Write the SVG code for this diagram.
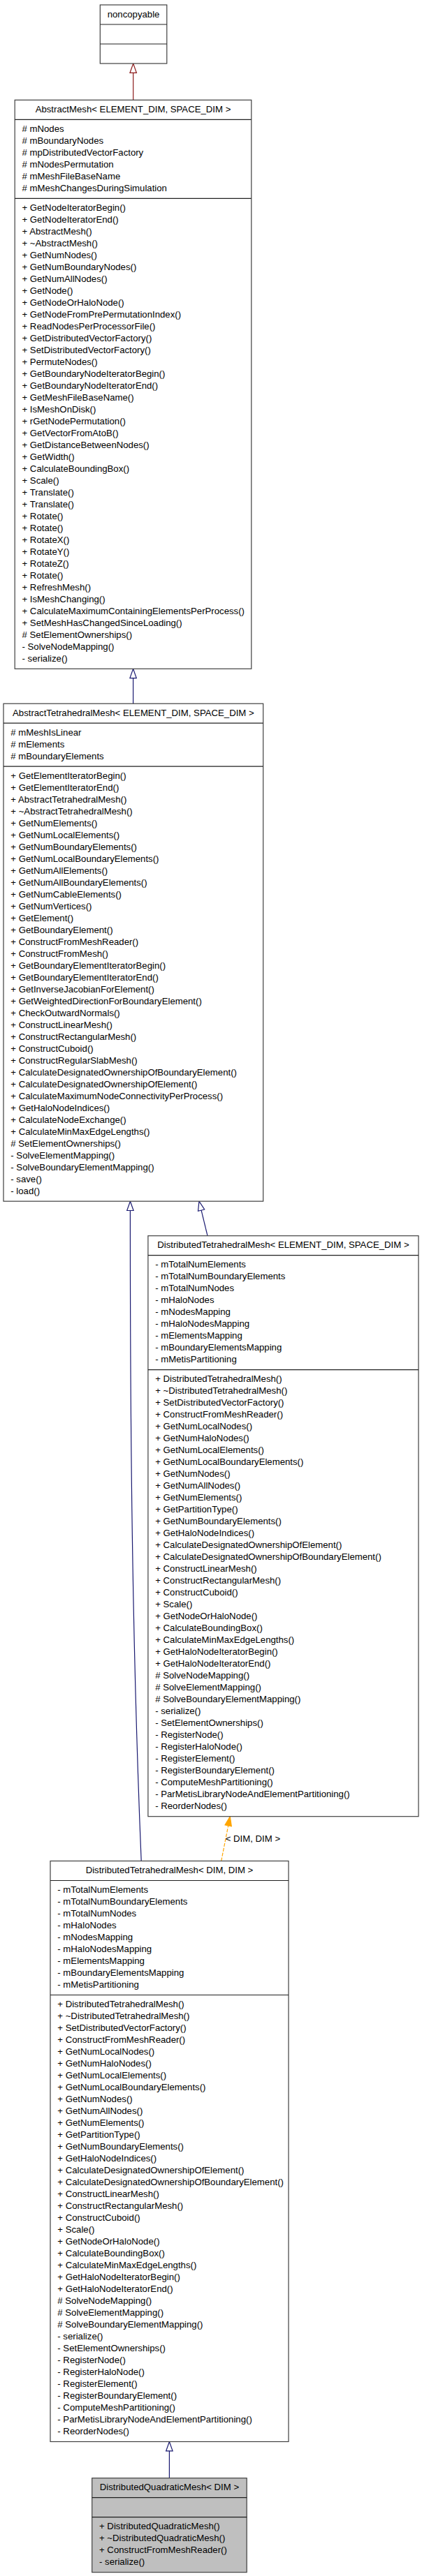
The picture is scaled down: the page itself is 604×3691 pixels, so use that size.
<svg xmlns="http://www.w3.org/2000/svg" width="604" height="3691" viewBox="0 0 604 3691">
<style>
.box{fill:#ffffff;stroke:#404040;stroke-width:1.2}
.grey{fill:#bfbfbf}
.sep{stroke:#202020;stroke-width:1.2}
text{font-family:"Liberation Sans",Arial,Helvetica,sans-serif;font-size:13.2px;fill:#000}
.t{text-anchor:middle}
.e{fill:none;stroke-width:1.2}
.red{stroke:#8b1a1a}
.blue{stroke:#191970}
.orange{stroke:#ffa500;stroke-dasharray:5,2}
</style>
<defs>
<marker id="hr" markerUnits="userSpaceOnUse" markerWidth="16" markerHeight="12" refX="0" refY="4.7" orient="auto" overflow="visible"><path d="M0,0 L13.3,4.7 L0,9.4 Z" fill="#ffffff" stroke="#8b1a1a" stroke-width="1.2"/></marker>
<marker id="hb" markerUnits="userSpaceOnUse" markerWidth="16" markerHeight="12" refX="0" refY="4.7" orient="auto" overflow="visible"><path d="M0,0 L13.3,4.7 L0,9.4 Z" fill="#ffffff" stroke="#191970" stroke-width="1.2"/></marker>
<marker id="ho" markerUnits="userSpaceOnUse" markerWidth="16" markerHeight="12" refX="0" refY="4.7" orient="auto" overflow="visible"><path d="M0,0 L13.3,4.7 L0,9.4 Z" fill="#ffa500" stroke="#ffa500" stroke-width="1.2"/></marker>
</defs>
<rect x="0" y="0" width="604" height="3691" fill="#ffffff"/>

<g id="connectors">
<path class="e red" d="M190.7,143.3 L190.7,104.3" marker-end="url(#hr)"/>
<path class="e blue" d="M190.6,1008.2 L190.6,971.6" marker-end="url(#hb)"/>
<path class="e blue" d="M202.2,2666.5 C189,2350 186.4,2050 186.4,1734.5" marker-end="url(#hb)"/>
<path class="e blue" d="M297,1770.7 L288.1,1734.1" marker-end="url(#hb)"/>
<path class="e orange" d="M316.7,2666.5 L326.7,2615.8" marker-end="url(#ho)"/>
<text x="322.7" y="2638.7">&lt; DIM, DIM &gt;</text>
<path class="e blue" d="M242.4,3550.7 L242.4,3511.8" marker-end="url(#hb)"/>
</g>

<g id="noncopyable">
<rect class="box" x="143.3" y="7" width="95.5" height="84"/>
<line class="sep" x1="143.3" y1="35" x2="238.8" y2="35"/>
<line class="sep" x1="143.3" y1="63" x2="238.8" y2="63"/>
<text class="t" x="191.05" y="24.6">noncopyable</text>
</g>

<g id="AbstractMesh">
<rect class="box" x="21.2" y="143.3" width="338.6" height="815"/>
<line class="sep" x1="21.2" y1="171.3" x2="359.8" y2="171.3"/>
<line class="sep" x1="21.2" y1="284.3" x2="359.8" y2="284.3"/>
<text class="t" x="190.5" y="160.9">AbstractMesh&lt; ELEMENT_DIM, SPACE_DIM &gt;</text>
<text x="31.5" y="188.9"><tspan x="31.5" dy="0"># mNodes</tspan><tspan x="31.5" dy="17"># mBoundaryNodes</tspan><tspan x="31.5" dy="17"># mpDistributedVectorFactory</tspan><tspan x="31.5" dy="17"># mNodesPermutation</tspan><tspan x="31.5" dy="17"># mMeshFileBaseName</tspan><tspan x="31.5" dy="17"># mMeshChangesDuringSimulation</tspan></text>
<text x="31.5" y="301.9"><tspan x="31.5" dy="0">+ GetNodeIteratorBegin()</tspan><tspan x="31.5" dy="17">+ GetNodeIteratorEnd()</tspan><tspan x="31.5" dy="17">+ AbstractMesh()</tspan><tspan x="31.5" dy="17">+ ~AbstractMesh()</tspan><tspan x="31.5" dy="17">+ GetNumNodes()</tspan><tspan x="31.5" dy="17">+ GetNumBoundaryNodes()</tspan><tspan x="31.5" dy="17">+ GetNumAllNodes()</tspan><tspan x="31.5" dy="17">+ GetNode()</tspan><tspan x="31.5" dy="17">+ GetNodeOrHaloNode()</tspan><tspan x="31.5" dy="17">+ GetNodeFromPrePermutationIndex()</tspan><tspan x="31.5" dy="17">+ ReadNodesPerProcessorFile()</tspan><tspan x="31.5" dy="17">+ GetDistributedVectorFactory()</tspan><tspan x="31.5" dy="17">+ SetDistributedVectorFactory()</tspan><tspan x="31.5" dy="17">+ PermuteNodes()</tspan><tspan x="31.5" dy="17">+ GetBoundaryNodeIteratorBegin()</tspan><tspan x="31.5" dy="17">+ GetBoundaryNodeIteratorEnd()</tspan><tspan x="31.5" dy="17">+ GetMeshFileBaseName()</tspan><tspan x="31.5" dy="17">+ IsMeshOnDisk()</tspan><tspan x="31.5" dy="17">+ rGetNodePermutation()</tspan><tspan x="31.5" dy="17">+ GetVectorFromAtoB()</tspan><tspan x="31.5" dy="17">+ GetDistanceBetweenNodes()</tspan><tspan x="31.5" dy="17">+ GetWidth()</tspan><tspan x="31.5" dy="17">+ CalculateBoundingBox()</tspan><tspan x="31.5" dy="17">+ Scale()</tspan><tspan x="31.5" dy="17">+ Translate()</tspan><tspan x="31.5" dy="17">+ Translate()</tspan><tspan x="31.5" dy="17">+ Rotate()</tspan><tspan x="31.5" dy="17">+ Rotate()</tspan><tspan x="31.5" dy="17">+ RotateX()</tspan><tspan x="31.5" dy="17">+ RotateY()</tspan><tspan x="31.5" dy="17">+ RotateZ()</tspan><tspan x="31.5" dy="17">+ Rotate()</tspan><tspan x="31.5" dy="17">+ RefreshMesh()</tspan><tspan x="31.5" dy="17">+ IsMeshChanging()</tspan><tspan x="31.5" dy="17">+ CalculateMaximumContainingElementsPerProcess()</tspan><tspan x="31.5" dy="17">+ SetMeshHasChangedSinceLoading()</tspan><tspan x="31.5" dy="17"># SetElementOwnerships()</tspan><tspan x="31.5" dy="17">- SolveNodeMapping()</tspan><tspan x="31.5" dy="17">- serialize()</tspan></text>
</g>

<g id="AbstractTetrahedralMesh">
<rect class="box" x="5" y="1008.2" width="371.7" height="713"/>
<line class="sep" x1="5" y1="1036.2" x2="376.7" y2="1036.2"/>
<line class="sep" x1="5" y1="1098.2" x2="376.7" y2="1098.2"/>
<text class="t" x="190.85" y="1025.8">AbstractTetrahedralMesh&lt; ELEMENT_DIM, SPACE_DIM &gt;</text>
<text x="15.3" y="1053.8"><tspan x="15.3" dy="0"># mMeshIsLinear</tspan><tspan x="15.3" dy="17"># mElements</tspan><tspan x="15.3" dy="17"># mBoundaryElements</tspan></text>
<text x="15.3" y="1115.8"><tspan x="15.3" dy="0">+ GetElementIteratorBegin()</tspan><tspan x="15.3" dy="17">+ GetElementIteratorEnd()</tspan><tspan x="15.3" dy="17">+ AbstractTetrahedralMesh()</tspan><tspan x="15.3" dy="17">+ ~AbstractTetrahedralMesh()</tspan><tspan x="15.3" dy="17">+ GetNumElements()</tspan><tspan x="15.3" dy="17">+ GetNumLocalElements()</tspan><tspan x="15.3" dy="17">+ GetNumBoundaryElements()</tspan><tspan x="15.3" dy="17">+ GetNumLocalBoundaryElements()</tspan><tspan x="15.3" dy="17">+ GetNumAllElements()</tspan><tspan x="15.3" dy="17">+ GetNumAllBoundaryElements()</tspan><tspan x="15.3" dy="17">+ GetNumCableElements()</tspan><tspan x="15.3" dy="17">+ GetNumVertices()</tspan><tspan x="15.3" dy="17">+ GetElement()</tspan><tspan x="15.3" dy="17">+ GetBoundaryElement()</tspan><tspan x="15.3" dy="17">+ ConstructFromMeshReader()</tspan><tspan x="15.3" dy="17">+ ConstructFromMesh()</tspan><tspan x="15.3" dy="17">+ GetBoundaryElementIteratorBegin()</tspan><tspan x="15.3" dy="17">+ GetBoundaryElementIteratorEnd()</tspan><tspan x="15.3" dy="17">+ GetInverseJacobianForElement()</tspan><tspan x="15.3" dy="17">+ GetWeightedDirectionForBoundaryElement()</tspan><tspan x="15.3" dy="17">+ CheckOutwardNormals()</tspan><tspan x="15.3" dy="17">+ ConstructLinearMesh()</tspan><tspan x="15.3" dy="17">+ ConstructRectangularMesh()</tspan><tspan x="15.3" dy="17">+ ConstructCuboid()</tspan><tspan x="15.3" dy="17">+ ConstructRegularSlabMesh()</tspan><tspan x="15.3" dy="17">+ CalculateDesignatedOwnershipOfBoundaryElement()</tspan><tspan x="15.3" dy="17">+ CalculateDesignatedOwnershipOfElement()</tspan><tspan x="15.3" dy="17">+ CalculateMaximumNodeConnectivityPerProcess()</tspan><tspan x="15.3" dy="17">+ GetHaloNodeIndices()</tspan><tspan x="15.3" dy="17">+ CalculateNodeExchange()</tspan><tspan x="15.3" dy="17">+ CalculateMinMaxEdgeLengths()</tspan><tspan x="15.3" dy="17"># SetElementOwnerships()</tspan><tspan x="15.3" dy="17">- SolveElementMapping()</tspan><tspan x="15.3" dy="17">- SolveBoundaryElementMapping()</tspan><tspan x="15.3" dy="17">- save()</tspan><tspan x="15.3" dy="17">- load()</tspan></text>
</g>

<g id="DistributedTetrahedralMesh_ELEMENT_DIM_SPACE_DIM">
<rect class="box" x="211.9" y="1770.7" width="387.1" height="832"/>
<line class="sep" x1="211.9" y1="1798.7" x2="599" y2="1798.7"/>
<line class="sep" x1="211.9" y1="1962.7" x2="599" y2="1962.7"/>
<text class="t" x="405.45" y="1788.3">DistributedTetrahedralMesh&lt; ELEMENT_DIM, SPACE_DIM &gt;</text>
<text x="222.2" y="1816.3"><tspan x="222.2" dy="0">- mTotalNumElements</tspan><tspan x="222.2" dy="17">- mTotalNumBoundaryElements</tspan><tspan x="222.2" dy="17">- mTotalNumNodes</tspan><tspan x="222.2" dy="17">- mHaloNodes</tspan><tspan x="222.2" dy="17">- mNodesMapping</tspan><tspan x="222.2" dy="17">- mHaloNodesMapping</tspan><tspan x="222.2" dy="17">- mElementsMapping</tspan><tspan x="222.2" dy="17">- mBoundaryElementsMapping</tspan><tspan x="222.2" dy="17">- mMetisPartitioning</tspan></text>
<text x="222.2" y="1980.3"><tspan x="222.2" dy="0">+ DistributedTetrahedralMesh()</tspan><tspan x="222.2" dy="17">+ ~DistributedTetrahedralMesh()</tspan><tspan x="222.2" dy="17">+ SetDistributedVectorFactory()</tspan><tspan x="222.2" dy="17">+ ConstructFromMeshReader()</tspan><tspan x="222.2" dy="17">+ GetNumLocalNodes()</tspan><tspan x="222.2" dy="17">+ GetNumHaloNodes()</tspan><tspan x="222.2" dy="17">+ GetNumLocalElements()</tspan><tspan x="222.2" dy="17">+ GetNumLocalBoundaryElements()</tspan><tspan x="222.2" dy="17">+ GetNumNodes()</tspan><tspan x="222.2" dy="17">+ GetNumAllNodes()</tspan><tspan x="222.2" dy="17">+ GetNumElements()</tspan><tspan x="222.2" dy="17">+ GetPartitionType()</tspan><tspan x="222.2" dy="17">+ GetNumBoundaryElements()</tspan><tspan x="222.2" dy="17">+ GetHaloNodeIndices()</tspan><tspan x="222.2" dy="17">+ CalculateDesignatedOwnershipOfElement()</tspan><tspan x="222.2" dy="17">+ CalculateDesignatedOwnershipOfBoundaryElement()</tspan><tspan x="222.2" dy="17">+ ConstructLinearMesh()</tspan><tspan x="222.2" dy="17">+ ConstructRectangularMesh()</tspan><tspan x="222.2" dy="17">+ ConstructCuboid()</tspan><tspan x="222.2" dy="17">+ Scale()</tspan><tspan x="222.2" dy="17">+ GetNodeOrHaloNode()</tspan><tspan x="222.2" dy="17">+ CalculateBoundingBox()</tspan><tspan x="222.2" dy="17">+ CalculateMinMaxEdgeLengths()</tspan><tspan x="222.2" dy="17">+ GetHaloNodeIteratorBegin()</tspan><tspan x="222.2" dy="17">+ GetHaloNodeIteratorEnd()</tspan><tspan x="222.2" dy="17"># SolveNodeMapping()</tspan><tspan x="222.2" dy="17"># SolveElementMapping()</tspan><tspan x="222.2" dy="17"># SolveBoundaryElementMapping()</tspan><tspan x="222.2" dy="17">- serialize()</tspan><tspan x="222.2" dy="17">- SetElementOwnerships()</tspan><tspan x="222.2" dy="17">- RegisterNode()</tspan><tspan x="222.2" dy="17">- RegisterHaloNode()</tspan><tspan x="222.2" dy="17">- RegisterElement()</tspan><tspan x="222.2" dy="17">- RegisterBoundaryElement()</tspan><tspan x="222.2" dy="17">- ComputeMeshPartitioning()</tspan><tspan x="222.2" dy="17">- ParMetisLibraryNodeAndElementPartitioning()</tspan><tspan x="222.2" dy="17">- ReorderNodes()</tspan></text>
</g>

<g id="DistributedTetrahedralMesh_DIM_DIM">
<rect class="box" x="72" y="2666.5" width="341" height="832"/>
<line class="sep" x1="72" y1="2694.5" x2="413" y2="2694.5"/>
<line class="sep" x1="72" y1="2858.5" x2="413" y2="2858.5"/>
<text class="t" x="242.5" y="2684.1">DistributedTetrahedralMesh&lt; DIM, DIM &gt;</text>
<text x="82.3" y="2712.1"><tspan x="82.3" dy="0">- mTotalNumElements</tspan><tspan x="82.3" dy="17">- mTotalNumBoundaryElements</tspan><tspan x="82.3" dy="17">- mTotalNumNodes</tspan><tspan x="82.3" dy="17">- mHaloNodes</tspan><tspan x="82.3" dy="17">- mNodesMapping</tspan><tspan x="82.3" dy="17">- mHaloNodesMapping</tspan><tspan x="82.3" dy="17">- mElementsMapping</tspan><tspan x="82.3" dy="17">- mBoundaryElementsMapping</tspan><tspan x="82.3" dy="17">- mMetisPartitioning</tspan></text>
<text x="82.3" y="2876.1"><tspan x="82.3" dy="0">+ DistributedTetrahedralMesh()</tspan><tspan x="82.3" dy="17">+ ~DistributedTetrahedralMesh()</tspan><tspan x="82.3" dy="17">+ SetDistributedVectorFactory()</tspan><tspan x="82.3" dy="17">+ ConstructFromMeshReader()</tspan><tspan x="82.3" dy="17">+ GetNumLocalNodes()</tspan><tspan x="82.3" dy="17">+ GetNumHaloNodes()</tspan><tspan x="82.3" dy="17">+ GetNumLocalElements()</tspan><tspan x="82.3" dy="17">+ GetNumLocalBoundaryElements()</tspan><tspan x="82.3" dy="17">+ GetNumNodes()</tspan><tspan x="82.3" dy="17">+ GetNumAllNodes()</tspan><tspan x="82.3" dy="17">+ GetNumElements()</tspan><tspan x="82.3" dy="17">+ GetPartitionType()</tspan><tspan x="82.3" dy="17">+ GetNumBoundaryElements()</tspan><tspan x="82.3" dy="17">+ GetHaloNodeIndices()</tspan><tspan x="82.3" dy="17">+ CalculateDesignatedOwnershipOfElement()</tspan><tspan x="82.3" dy="17">+ CalculateDesignatedOwnershipOfBoundaryElement()</tspan><tspan x="82.3" dy="17">+ ConstructLinearMesh()</tspan><tspan x="82.3" dy="17">+ ConstructRectangularMesh()</tspan><tspan x="82.3" dy="17">+ ConstructCuboid()</tspan><tspan x="82.3" dy="17">+ Scale()</tspan><tspan x="82.3" dy="17">+ GetNodeOrHaloNode()</tspan><tspan x="82.3" dy="17">+ CalculateBoundingBox()</tspan><tspan x="82.3" dy="17">+ CalculateMinMaxEdgeLengths()</tspan><tspan x="82.3" dy="17">+ GetHaloNodeIteratorBegin()</tspan><tspan x="82.3" dy="17">+ GetHaloNodeIteratorEnd()</tspan><tspan x="82.3" dy="17"># SolveNodeMapping()</tspan><tspan x="82.3" dy="17"># SolveElementMapping()</tspan><tspan x="82.3" dy="17"># SolveBoundaryElementMapping()</tspan><tspan x="82.3" dy="17">- serialize()</tspan><tspan x="82.3" dy="17">- SetElementOwnerships()</tspan><tspan x="82.3" dy="17">- RegisterNode()</tspan><tspan x="82.3" dy="17">- RegisterHaloNode()</tspan><tspan x="82.3" dy="17">- RegisterElement()</tspan><tspan x="82.3" dy="17">- RegisterBoundaryElement()</tspan><tspan x="82.3" dy="17">- ComputeMeshPartitioning()</tspan><tspan x="82.3" dy="17">- ParMetisLibraryNodeAndElementPartitioning()</tspan><tspan x="82.3" dy="17">- ReorderNodes()</tspan></text>
</g>

<g id="DistributedQuadraticMesh">
<rect class="box grey" x="131.7" y="3550.7" width="221.5" height="135"/>
<line class="sep" x1="131.7" y1="3578.7" x2="353.2" y2="3578.7"/>
<line class="sep" x1="131.7" y1="3606.7" x2="353.2" y2="3606.7"/>
<text class="t" x="242.45" y="3568.3">DistributedQuadraticMesh&lt; DIM &gt;</text>
<text x="142" y="3624.3"><tspan x="142" dy="0">+ DistributedQuadraticMesh()</tspan><tspan x="142" dy="17">+ ~DistributedQuadraticMesh()</tspan><tspan x="142" dy="17">+ ConstructFromMeshReader()</tspan><tspan x="142" dy="17">- serialize()</tspan></text>
</g>
</svg>
